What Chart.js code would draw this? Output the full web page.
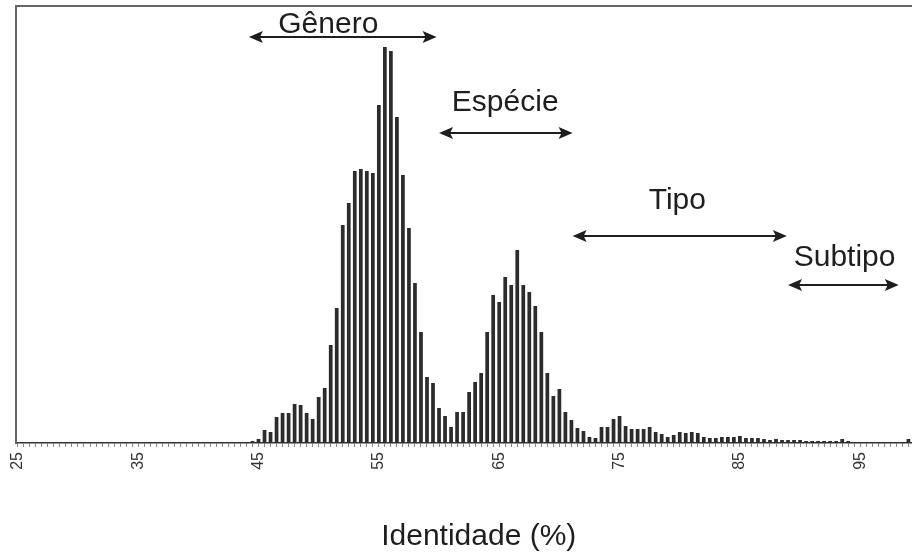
<!DOCTYPE html>
<html>
<head>
<meta charset="utf-8">
<title>Identidade (%)</title>
<script src="https://cdn.jsdelivr.net/npm/chart.js@4.4.1/dist/chart.umd.min.js"></script>
<style>
  html, body { margin: 0; padding: 0; background: #fff; }
  #wrap { width: 912px; height: 553px; position: relative; }
</style>
</head>
<body>
<div id="wrap"><canvas id="histChart"></canvas></div>
<script>
// histogram bins: 25% .. 99% identity, every 0.5%
const binStart = 25;
const binStep = 0.5;
// bar heights (no y scale in the original, arbitrary units)
const counts = [
  0, 0, 0, 0, 0, 0, 0, 0, 0, 0,            // 25 - 29.5
  0, 0, 0, 0, 0, 0, 0, 0, 0, 0,            // 30 - 34.5
  0, 0, 0, 0, 0, 0, 0, 0, 0, 0,            // 35 - 39.5
  0, 0, 0, 0, 0, 0, 0, 1, 1, 2,            // 40 - 44.5
  4, 13, 11, 26, 30, 30, 39, 38, 30, 24,   // 45 - 49.5
  46, 55, 98, 135, 218, 240, 272, 274, 272, 270,   // 50 - 54.5
  338, 396, 392, 326, 268, 215, 160, 111, 66, 60,  // 55 - 59.5
  35, 27, 16, 31, 31, 51, 61, 70, 111, 148,        // 60 - 64.5
  141, 166, 158, 193, 158, 151, 137, 111, 70, 47,  // 65 - 69.5
  54, 31, 23, 15, 12, 6, 5, 16, 16, 24,    // 70 - 74.5
  27, 17, 14, 14, 14, 16, 11, 9, 6, 8,     // 75 - 79.5
  11, 10, 11, 10, 6, 5, 5, 6, 6, 6,        // 80 - 84.5
  7, 5, 5, 5, 4, 3, 4, 3, 3, 3,            // 85 - 89.5
  3, 2, 2, 2, 2, 2, 2, 4, 2, 1,            // 90 - 94.5
  1, 1, 1, 1, 1, 1, 1, 1, 4                // 95 - 99
];
const identity = counts.map((_, i) => binStart + i * binStep);
const tickLabels = ['25', '35', '45', '55', '65', '75', '85', '95'];

// taxonomic ranges (identity %) marked with arrows
const groups = ['Gênero', 'Espécie', 'Tipo', 'Subtipo'];
const groupFrom = [44.2, 60.0, 71.1, 89.0];
const groupTo = [59.8, 71.1, 88.9, 98.2];

// where the arrows / labels sit (y in bar units, x of label in %)
const arrowY = [406, 310, 207, 158];
const textY = [410, 332, 234, 177];
const textX = [50.8, 65.5, 79.8, 93.7];

const FONT = "'Liberation Sans', Arial, Helvetica, sans-serif";

function drawArrowHead(ctx, tipX, yPos, dir) {
  // dir = -1 points left, 1 points right
  const len = 14, half = 6, notch = 3;
  ctx.beginPath();
  ctx.moveTo(tipX, yPos);
  ctx.lineTo(tipX - dir * len, yPos - half);
  ctx.lineTo(tipX - dir * (len - notch), yPos);
  ctx.lineTo(tipX - dir * len, yPos + half);
  ctx.closePath();
  ctx.fill();
}

const rangeArrows = {
  id: 'rangeArrows',
  afterDraw(chart) {
    const { ctx, scales: { x, y }, chartArea } = chart;
    ctx.save();
    ctx.fillStyle = '#1e1e1e';
    ctx.strokeStyle = '#1e1e1e';
    ctx.lineWidth = 2;
    ctx.font = '30px ' + FONT;
    ctx.textAlign = 'center';
    ctx.textBaseline = 'alphabetic';

    groups.forEach((name, i) => {
      const x1 = x.getPixelForValue(groupFrom[i]);
      const x2 = x.getPixelForValue(groupTo[i]);
      const ya = y.getPixelForValue(arrowY[i]);
      ctx.beginPath();
      ctx.moveTo(x1 + 8, ya);
      ctx.lineTo(x2 - 8, ya);
      ctx.stroke();
      drawArrowHead(ctx, x1, ya, -1);
      drawArrowHead(ctx, x2, ya, 1);
      ctx.fillText(name, x.getPixelForValue(textX[i]), y.getPixelForValue(textY[i]));
    });

    // axis title
    ctx.fillText('Identidade (%)', x.getPixelForValue(63.3), chartArea.bottom + 102);
    ctx.restore();
  }
};

const ctx = document.getElementById('histChart').getContext('2d');
const histChart = new Chart(ctx, {
  type: 'bar',
  data: {
    datasets: [{
      data: identity.map((v, i) => ({ x: v, y: counts[i] })),
      backgroundColor: '#2c2c2c',
      borderWidth: 0,
      categoryPercentage: 1,
      barPercentage: 0.62,
      xAxisID: 'x',
      yAxisID: 'y'
    }]
  },
  options: {
    responsive: true,
    maintainAspectRatio: false,
    animation: false,
    layout: { padding: { left: 16, top: 6, right: 0, bottom: 0 } },
    plugins: {
      legend: { display: false },
      tooltip: { enabled: false }
    },
    scales: {
      x: {
        type: 'linear',
        min: 24.85,
        max: 99.3,
        offset: false,
        grid: {
          display: true,
          drawOnChartArea: false,
          drawTicks: true,
          tickLength: 4,
          offset: false,
          color: '#8a8a8a',
          lineWidth: 1
        },
        border: { display: true, color: '#333', width: 1.5 },
        ticks: {
          autoSkip: false,
          minRotation: 90,
          maxRotation: 90,
          padding: 5,
          color: '#333',
          font: { family: FONT, size: 16 },
          callback: (value) => tickLabels.includes(String(value)) ? String(value) : ''
        },
        afterBuildTicks: (scale) => {
          scale.ticks = identity.map(v => ({ value: v }));
        },
        afterFit: (scale) => {
          // plot fills the frame edge to edge, like the original
          scale.height = 110;
          scale.paddingLeft = 0;
          scale.paddingRight = 0;
        }
      },
      xTop: {
        type: 'linear',
        position: 'top',
        ticks: { display: false },
        grid: { display: false, drawTicks: false },
        border: { display: true, color: '#666', width: 2 }
      },
      y: {
        min: 0,
        max: 437,
        ticks: { display: false },
        grid: { display: false, drawTicks: false },
        border: { display: true, color: '#666', width: 2 }
      }
    }
  },
  plugins: [rangeArrows]
});
</script>
</body>
</html>
